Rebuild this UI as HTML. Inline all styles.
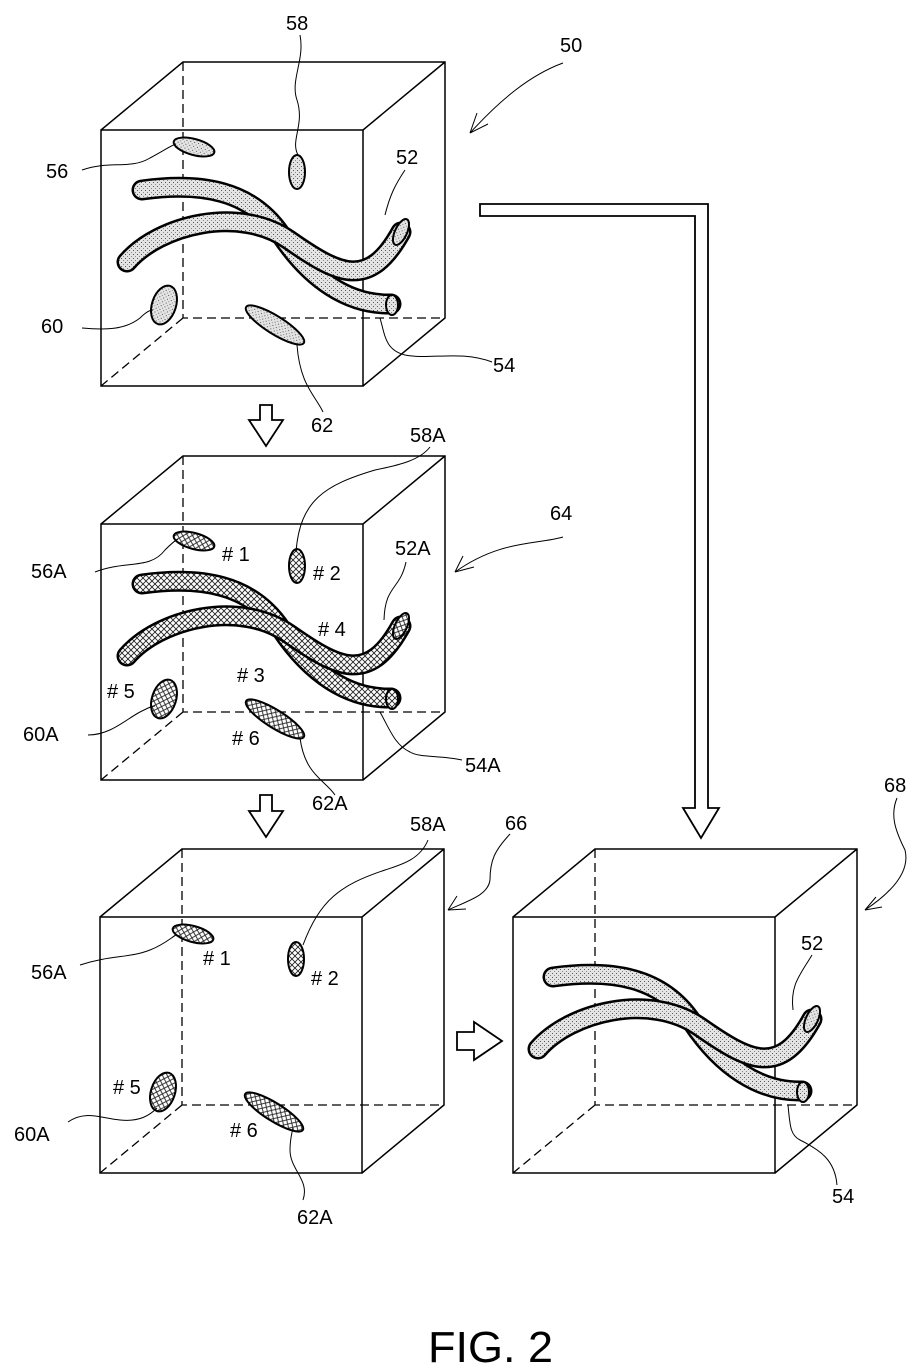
<!DOCTYPE html>
<html><head><meta charset="utf-8"><style>html,body{margin:0;padding:0;background:#fff}svg{display:block}text{font-family:"Liberation Sans",sans-serif;font-size:20px;fill:#000}</style></head>
<body>
<svg width="921" height="1370" viewBox="0 0 921 1370" xmlns="http://www.w3.org/2000/svg">
<defs>
<pattern id="dots" width="4" height="4" patternUnits="userSpaceOnUse"><rect width="4" height="4" fill="#e4e4e4"/><rect x="0" y="0" width="1" height="1" fill="#555"/><rect x="2" y="2" width="1" height="1" fill="#888"/></pattern>
<pattern id="hatch" width="6" height="6" patternUnits="userSpaceOnUse"><rect width="6" height="6" fill="#fff"/><path d="M0,0L6,6M6,0L0,6" stroke="#222" stroke-width="0.9"/></pattern>
<g id="cube" fill="none" stroke="#000">
<path d="M0,0H262V256H0Z M0,0L82,-68H344V188L262,256 M262,0L344,-68" stroke-width="1.5"/>
<path d="M82,-68V188H344 M82,188L0,256" stroke-width="1.3" stroke-dasharray="9,5"/>
</g>
<g id="tubesd">
<path d="M41,60 C100,52 150,60 180,105 S248,175 290,174" fill="none" stroke="#000" stroke-width="21" stroke-linecap="round"/>
<path d="M41,60 C100,52 150,60 180,105 S248,175 290,174" fill="none" stroke="url(#dots)" stroke-width="16" stroke-linecap="round"/>
<path d="M26,132 C58,95 138,75 188,110 S268,160 300,102" fill="none" stroke="#000" stroke-width="21" stroke-linecap="round"/>
<path d="M26,132 C58,95 138,75 188,110 S268,160 300,102" fill="none" stroke="url(#dots)" stroke-width="16" stroke-linecap="round"/>
<ellipse cx="291" cy="175" rx="6" ry="10" fill="url(#dots)" stroke="#000" stroke-width="2"/>
<ellipse cx="300" cy="102" rx="6" ry="14" transform="rotate(25 300 102)" fill="url(#dots)" stroke="#000" stroke-width="2"/>
</g>
<g id="tubesh">
<path d="M41,60 C100,52 150,60 180,105 S248,175 290,174" fill="none" stroke="#000" stroke-width="21" stroke-linecap="round"/>
<path d="M41,60 C100,52 150,60 180,105 S248,175 290,174" fill="none" stroke="url(#hatch)" stroke-width="16" stroke-linecap="round"/>
<path d="M26,132 C58,95 138,75 188,110 S268,160 300,102" fill="none" stroke="#000" stroke-width="21" stroke-linecap="round"/>
<path d="M26,132 C58,95 138,75 188,110 S268,160 300,102" fill="none" stroke="url(#hatch)" stroke-width="16" stroke-linecap="round"/>
<ellipse cx="291" cy="175" rx="6" ry="10" fill="url(#hatch)" stroke="#000" stroke-width="2"/>
<ellipse cx="300" cy="102" rx="6" ry="14" transform="rotate(25 300 102)" fill="url(#hatch)" stroke="#000" stroke-width="2"/>
</g>
<g id="ellsd" stroke="#000" stroke-width="2" fill="url(#dots)">
<ellipse cx="93" cy="17" rx="21" ry="8" transform="rotate(15 93 17)"/>
<ellipse cx="196" cy="42" rx="8" ry="17"/>
<ellipse cx="63" cy="175" rx="12" ry="20" transform="rotate(18 63 175)"/>
<ellipse cx="174" cy="195" rx="34" ry="9" transform="rotate(32 174 195)"/>
</g>
<g id="ellsh" stroke="#000" stroke-width="2" fill="url(#hatch)">
<ellipse cx="93" cy="17" rx="21" ry="8" transform="rotate(15 93 17)"/>
<ellipse cx="196" cy="42" rx="8" ry="17"/>
<ellipse cx="63" cy="175" rx="12" ry="20" transform="rotate(18 63 175)"/>
<ellipse cx="174" cy="195" rx="34" ry="9" transform="rotate(32 174 195)"/>
</g>
</defs>

<g transform="translate(101,130)"><use href="#cube"/><use href="#ellsd"/><use href="#tubesd"/></g>
<g transform="translate(101,524)"><use href="#cube"/><use href="#ellsh"/><use href="#tubesh"/></g>
<g transform="translate(100,917)"><use href="#cube"/><use href="#ellsh"/></g>
<g transform="translate(513,917)"><use href="#cube"/><use href="#tubesd" transform="translate(-1,0)"/></g>

<g fill="none" stroke="#000" stroke-width="1">
<path d="M300,35 C305,60 290,80 297,100 C305,125 290,140 298,155"/>
<path d="M82,170 C110,160 130,170 150,158 C165,150 170,146 176,144"/>
<path d="M405,170 C395,185 390,195 385,215"/>
<path d="M82,328 C105,330 125,330 140,318 C146,312 150,310 153,310"/>
<path d="M492,362 C460,350 430,360 405,355 C385,350 385,335 380,318"/>
<path d="M323,412 C315,395 300,385 297,345"/>
<path d="M563,63 C530,75 500,100 470,133"/>
<path d="M470,133 L477,113 M470,133 L488,124"/>
<path d="M430,447 C420,460 400,465 375,470 C325,485 300,500 296,552"/>
<path d="M95,572 C125,560 150,570 165,550 C172,543 176,540 178,539"/>
<path d="M406,562 C400,590 385,585 384,620"/>
<path d="M88,735 C110,735 125,720 140,712 C148,708 152,706 155,706"/>
<path d="M462,760 C440,755 420,758 410,752 C395,745 390,730 380,712"/>
<path d="M335,795 C325,780 305,775 300,738"/>
<path d="M563,537 C535,545 500,540 455,572"/>
<path d="M455,572 L463,556 M455,572 L474,567"/>
<path d="M428,840 C420,860 400,865 385,870 C340,885 320,900 303,945"/>
<path d="M80,965 C110,955 130,958 150,950 C165,944 172,937 176,935"/>
<path d="M68,1122 C85,1110 100,1118 120,1120 C140,1122 150,1115 157,1108"/>
<path d="M303,1200 C310,1180 290,1170 290,1150 C290,1140 292,1132 293,1128"/>
<path d="M510,834 C495,850 490,860 490,880 C488,895 470,900 448,910"/>
<path d="M448,910 L457,896 M448,910 L466,909"/>
<path d="M812,955 C800,975 790,985 793,1010"/>
<path d="M837,1185 C835,1160 820,1150 800,1140 C790,1135 790,1125 788,1105"/>
<path d="M897,798 C890,815 895,830 905,850 C910,870 895,890 865,910"/>
<path d="M865,910 L876,897 M865,910 L882,907"/>
</g>

<g fill="#fff" stroke="#000" stroke-width="1.8">
<path d="M260,405H272V420H283L266,446L249,420H260Z"/>
<path d="M260,795H272V811H283L266,837L249,811H260Z"/>
<path d="M457,1032H474V1022L502,1041L474,1060V1050H457Z"/>
<path d="M480,204H708V808H719L701,838L683,808H695V216H480Z"/>
</g>

<text x="286" y="30">58</text>
<text x="560" y="52">50</text>
<text x="46" y="178">56</text>
<text x="396" y="164">52</text>
<text x="41" y="333">60</text>
<text x="493" y="372">54</text>
<text x="311" y="432">62</text>

<text x="410" y="442">58A</text>
<text x="550" y="520">64</text>
<text x="31" y="578">56A</text>
<text x="222" y="561"># 1</text>
<text x="313" y="580"># 2</text>
<text x="395" y="555">52A</text>
<text x="318" y="636"># 4</text>
<text x="237" y="682"># 3</text>
<text x="107" y="698"># 5</text>
<text x="23" y="741">60A</text>
<text x="232" y="745"># 6</text>
<text x="465" y="772">54A</text>
<text x="312" y="810">62A</text>

<text x="410" y="831">58A</text>
<text x="505" y="830">66</text>
<text x="31" y="979">56A</text>
<text x="203" y="965"># 1</text>
<text x="311" y="985"># 2</text>
<text x="113" y="1094"># 5</text>
<text x="14" y="1141">60A</text>
<text x="230" y="1137"># 6</text>
<text x="297" y="1224">62A</text>

<text x="884" y="792">68</text>
<text x="801" y="950">52</text>
<text x="832" y="1203">54</text>

<text x="428" y="1362" style="font-size:44px" textLength="125" lengthAdjust="spacingAndGlyphs">FIG. 2</text>
</svg>
</body></html>
